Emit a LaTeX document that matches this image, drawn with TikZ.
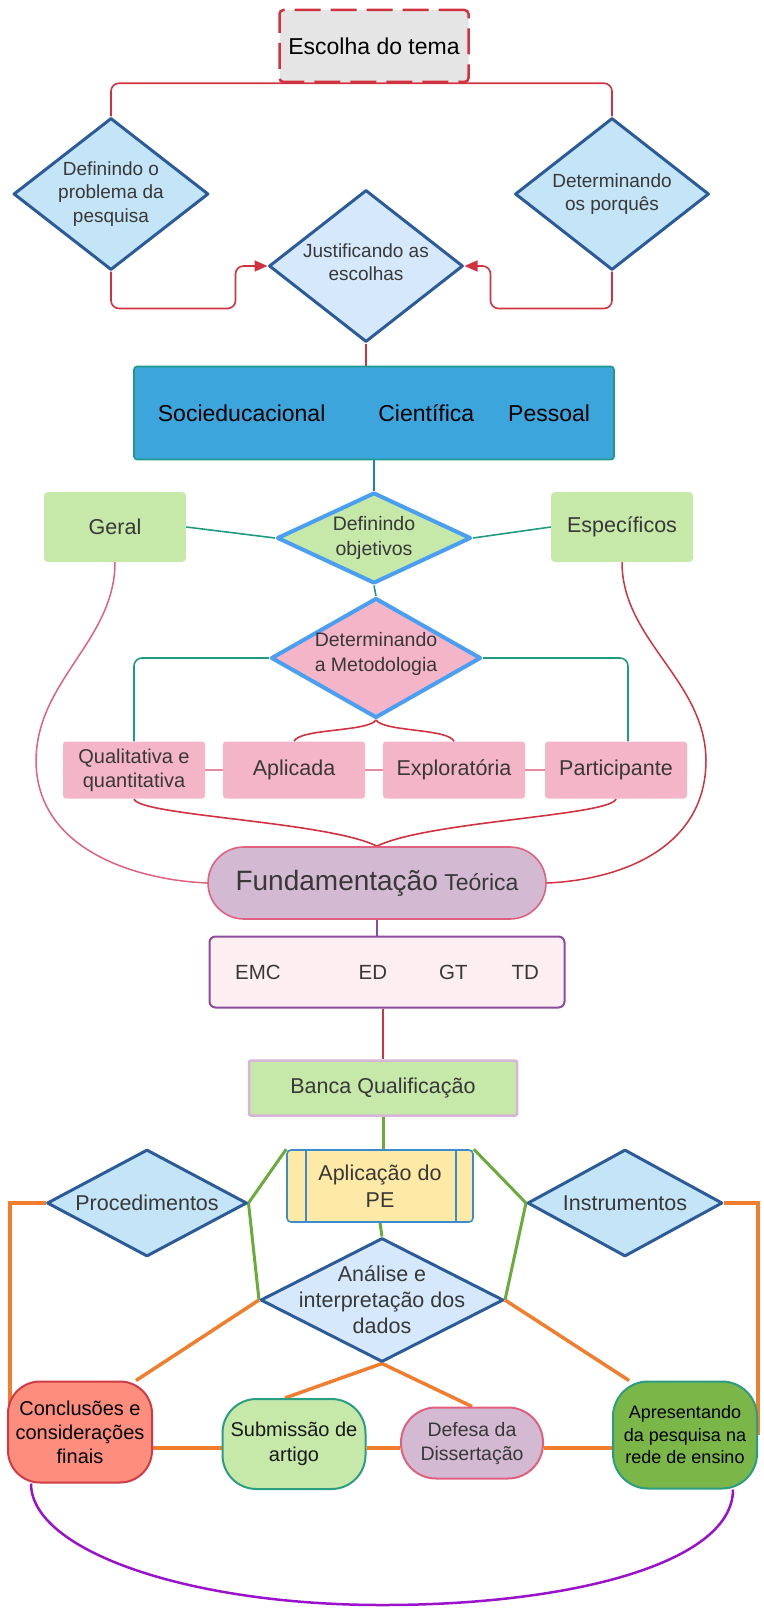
\documentclass[tikz,border=0pt]{standalone}
\usepackage{fontspec}
\setmainfont{Liberation Sans}
\usepackage{tikz}
\usetikzlibrary{arrows.meta}
\usetikzlibrary{backgrounds}
\usetikzlibrary{calc}
\usetikzlibrary{shapes.geometric}
\usetikzlibrary{positioning}

\newcommand{\fsz}[2]{\fontsize{#1}{#2}\selectfont}

\definecolor{linered}{HTML}{D1323F}
\definecolor{boxgray}{HTML}{E5E5E5}
\definecolor{txtgray}{HTML}{383838}
\definecolor{darkblue}{HTML}{2C5B9A}
\definecolor{skyblue}{HTML}{C4E4F7}
\definecolor{paleblue}{HTML}{D6E9FC}
\definecolor{brightblue}{HTML}{4A9FF2}
\definecolor{boxblue}{HTML}{3BA5DC}
\definecolor{boxteal}{HTML}{1F9A8A}
\definecolor{lgreen}{HTML}{C6E8A9}
\definecolor{lpink}{HTML}{F4B5C8}
\definecolor{lilac}{HTML}{D3B9D1}
\definecolor{pinkedge}{HTML}{E0607F}
\definecolor{palepink}{HTML}{FDEEF1}
\definecolor{plum}{HTML}{8A4C9B}
\definecolor{lilacedge}{HTML}{D7B5D7}
\definecolor{lyellow}{HTML}{FEE9A6}
\definecolor{yellowedge}{HTML}{3A8CCC}
\definecolor{salmon}{HTML}{FD8E7E}
\definecolor{salmonedge}{HTML}{CF3B44}
\definecolor{tealedge}{HTML}{2B9D80}
\definecolor{grass}{HTML}{7AB648}
\definecolor{lineteal}{HTML}{1F9B80}
\definecolor{lineblue}{HTML}{1A7FC1}
\definecolor{linepink}{HTML}{E8889F}
\definecolor{linegreen}{HTML}{6AAB3A}
\definecolor{lineorange}{HTML}{F07E2E}
\definecolor{lineviolet}{HTML}{9A12CC}

\begin{document}
\begin{tikzpicture}[x=1pt,y=-1pt,
    dia/.style={diamond, line width=3pt, line join=round, inner sep=0pt},
    dtext/.style={font=\fsz{19}{23.5}, text=txtgray, align=center},
    boxnode/.style={rectangle, inner sep=0pt, align=center, text=txtgray},
    redline/.style={draw=linered, line width=1.6pt, rounded corners=8pt},
    tealline/.style={draw=lineteal, line width=1.6pt, rounded corners=8pt},
    greenline/.style={draw=linegreen, line width=3pt},
    orangeline/.style={draw=lineorange, line width=3.5pt}]
\useasboundingbox (0,0) rectangle (763,1608);

	% theme and justification
	\node[boxnode, draw=linered, fill=boxgray, line width=2.5pt, dash pattern=on 26pt off 10pt,
	      rounded corners=4pt, minimum width=189pt, minimum height=72pt,
	      font=\fsz{23}{27}, text=black] (tema) at (374,46) {Escolha do tema};
	\begin{scope}[every node/.style={dia, draw=darkblue, fill=skyblue}]
		\node[minimum width=195pt, minimum height=152pt,
		      label={[dtext]center:{Definindo o\\problema da\\pesquisa}}] (problema) at (111,194) {};
		\node[minimum width=194pt, minimum height=152pt,
		      label={[dtext]center:{Determinando\\os porquês}}] (porques) at (612,194) {};
		\node[fill=paleblue, minimum width=194pt, minimum height=152pt,
		      label={[dtext, yshift=4pt]center:{Justificando as\\escolhas}}] (justif) at (366,266) {};
	\end{scope}

	\node[boxnode, draw=boxteal, fill=boxblue, line width=1.6pt, rounded corners=3pt,
	      minimum width=480pt, minimum height=93pt, font=\fsz{23}{27}, text=black]
	      (relevancia) at (374,413) {Socieducacional\hspace{53pt}Científica\hspace{34pt}Pessoal};

	% objectives and methodology
	\begin{scope}[every node/.style={dia, draw=brightblue, line width=4pt}]
		\node[fill=lgreen, minimum width=194pt, minimum height=91pt,
		      label={[dtext, font=\fsz{19.5}{25.5}]center:{Definindo\\objetivos}}] (objetivos) at (374,538) {};
		\node[fill=lpink, minimum width=210pt, minimum height=120pt,
		      label={[dtext, font=\fsz{19.5}{24.5}, yshift=4pt]center:{Determinando\\a Metodologia}}] (metodo) at (376,658) {};
	\end{scope}
	\begin{scope}[every node/.style={boxnode, fill=lgreen, rounded corners=4pt,
	              minimum width=142pt, minimum height=70pt, font=\fsz{21.5}{25}}]
		\node (geral) at (115,527) {Geral};
		\node (especificos) at (622,527) {Específicos};
	\end{scope}
	\begin{scope}[every node/.style={boxnode, fill=lpink, rounded corners=3pt,
	              minimum width=142pt, minimum height=57pt, font=\fsz{21.5}{25}}]
		\node[font=\fsz{20}{24}] (qualiquanti) at (134,770) {Qualitativa e\\quantitativa};
		\node (aplicada) at (294,770) {Aplicada};
		\node (exploratoria) at (454,770) {Exploratória};
		\node (participante) at (616,770) {Participante};
	\end{scope}

	% theoretical basis
	\node[boxnode, draw=pinkedge, fill=lilac, line width=1.6pt, rounded corners=36pt,
	      minimum width=338pt, minimum height=72pt, font=\fsz{23}{28}]
	      (fundamentacao) at (377,883) {{\fsz{28}{32}Fundamentação} Teórica};
	\node[boxnode, draw=plum, fill=palepink, line width=2pt, rounded corners=6pt,
	      minimum width=355pt, minimum height=71pt, font=\fsz{20.5}{25}]
	      (eixos) at (387,972) {EMC\hspace{78pt}ED\hspace{52pt}GT\hspace{44pt}TD};
	\node[boxnode, draw=lilacedge, fill=lgreen, line width=2.5pt, rounded corners=2pt,
	      minimum width=268pt, minimum height=55pt, font=\fsz{21.5}{25}]
	      (banca) at (383,1088) {Banca Qualificação};

	% application of the educational product
	\node[boxnode, draw=yellowedge, fill=lyellow, line width=1.6pt, rounded corners=4pt,
	      minimum width=186pt, minimum height=72pt, font=\fsz{21.5}{27}]
	      (aplicacao) at (380,1186) {Aplicação do\\PE};
	\draw[yellowedge, line width=1.6pt] ([xshift=20pt]aplicacao.north west) -- ([xshift=20pt]aplicacao.south west);
	\draw[yellowedge, line width=1.6pt] ([xshift=-18pt]aplicacao.north east) -- ([xshift=-18pt]aplicacao.south east);
	\begin{scope}[every node/.style={dia, draw=darkblue, fill=skyblue}]
		\node[minimum width=200pt, minimum height=107pt,
		      label={[dtext, font=\fsz{21.5}{26}]center:{Procedimentos}}] (procedimentos) at (147,1203) {};
		\node[minimum width=195pt, minimum height=107pt,
		      label={[dtext, font=\fsz{21.5}{26}]center:{Instrumentos}}] (instrumentos) at (625,1203) {};
		\node[fill=paleblue, minimum width=243pt, minimum height=124pt,
		      label={[dtext, font=\fsz{21.5}{26}]center:{Análise e\\interpretação dos\\dados}}] (analise) at (382,1300) {};
	\end{scope}

	% outcomes
	\begin{scope}[every node/.style={boxnode, line width=2pt, minimum width=143pt}]
		\node[draw=salmonedge, fill=salmon, rounded corners=32pt, minimum width=144pt, minimum height=101pt,
		      font=\fsz{20}{24}, text=black] (conclusoes) at (80,1432) {Conclusões e\\considerações\\finais};
		\node[draw=tealedge, fill=lgreen, rounded corners=34pt, minimum height=90pt,
		      font=\fsz{20}{25}, text=black!90] (submissao) at (294,1444) {Submissão de\\artigo};
		\node[draw=pinkedge, fill=lilac, rounded corners=35pt, minimum width=142pt, minimum height=71pt,
		      font=\fsz{19.5}{24}] (defesa) at (472,1443) {Defesa da\\Dissertação};
		\node[draw=tealedge, fill=grass, rounded corners=35pt, minimum width=144pt, minimum height=107pt,
		      font=\fsz{18}{22.5}, text=black] (apresentando) at (685,1435) {Apresentando\\da pesquisa na\\rede de ensino};
	\end{scope}

	\coordinate (curvaesq) at (36,760);
	\coordinate (curvadir) at (706,760);
	\coordinate (fundo) at (382,1605);

	\begin{scope}[on background layer]
		\draw[redline] (problema.north) |- (tema.south) -| (porques.north);
		\draw[redline, -{Triangle[length=13pt,width=11pt]}] (problema.south) -- ++(0,37) -| ($(justif.west)+(-32,0)$) -- (justif.west);
		\draw[redline, -{Triangle[length=13pt,width=11pt]}] (porques.south) -- ++(0,37) -| ($(justif.east)+(26,0)$) -- (justif.east);
		\draw[redline] (justif.south) -- (justif.south |- relevancia.north);
		\draw[draw=lineblue, line width=2pt] (relevancia.south) -- (objetivos.north);

		\draw[tealline] (geral.east) -- (objetivos.west);
		\draw[tealline] (especificos.west) -- (objetivos.east);
		\draw[tealline] (objetivos.south) -- (metodo.north);
		\draw[tealline] (metodo.west) -| (qualiquanti.north);
		\draw[tealline] (metodo.east) -| ([xshift=12pt]participante.north);

		\draw[redline] (metodo.south) .. controls +(-8,12) and +(6,-13) .. (aplicada.north);
		\draw[redline] (metodo.south) .. controls +(8,12) and +(-6,-13) .. (exploratoria.north);
		\draw[draw=linepink, line width=1.3pt] (qualiquanti.east) -- (aplicada.west);
		\draw[draw=linepink, line width=1.3pt] (aplicada.east) -- (exploratoria.west);
		\draw[draw=linepink, line width=1.3pt] (exploratoria.east) -- (participante.west);
		\draw[redline] (qualiquanti.south) .. controls +(3,17) and +(-50,-25) .. (fundamentacao.north);
		\draw[redline] (participante.south) .. controls +(-3,17) and +(50,-25) .. (fundamentacao.north);

		\draw[draw=pinkedge, line width=1.5pt] (geral.south) .. controls +(0,78) and +(1,-80) .. (curvaesq)
		      .. controls +(0,90) and +(-71,-3) .. (fundamentacao.west);
		\draw[draw=linered, line width=1.5pt] (especificos.south) .. controls +(0,78) and +(-1,-80) .. (curvadir)
		      .. controls +(0,90) and +(71,-3) .. (fundamentacao.east);

		\draw[draw=plum, line width=1.6pt] (fundamentacao.south) -- (fundamentacao.south |- eixos.north);
		\draw[redline] (banca.north |- eixos.south) -- (banca.north);
		\draw[greenline] (banca.south) -- (banca.south |- aplicacao.north);
		\draw[greenline] (aplicacao.south) -- (analise.north);
		\draw[greenline] (aplicacao.north west) -- (procedimentos.east) -- (analise.west);
		\draw[greenline] (aplicacao.north east) -- (instrumentos.west) -- (analise.east);

		\draw[orangeline] (procedimentos.west) -| ([xshift=3pt]conclusoes.west);
		\draw[orangeline] (instrumentos.east) -| (apresentando.east);
		\draw[orangeline] (analise.west) -- ([xshift=-17pt]conclusoes.north east);
		\draw[orangeline] (analise.east) -- ([xshift=17pt]apresentando.north west);
		\draw[orangeline] (analise.south) -- ([xshift=-9pt]submissao.north);
		\draw[orangeline] (analise.south) -- (defesa.north);
		\draw[orangeline] ($(conclusoes.east |- submissao.west)+(0,4)$) -- ($(submissao.west)+(0,4)$);
		\draw[orangeline] ($(submissao.east)+(0,4)$) -- ($(defesa.west |- submissao.east)+(0,4)$);
		\draw[orangeline] ($(defesa.east)+(0,5)$) -- ($(apresentando.west |- defesa.east)+(0,5)$);

		\draw[draw=lineviolet, line width=2.5pt] ([xshift=-49pt]conclusoes.south) .. controls +(0,67) and +(-194,0) .. (fundo)
		      .. controls +(194,0) and +(0,72) .. ([xshift=48pt]apresentando.south);
	\end{scope}
\end{tikzpicture}
\end{document}
